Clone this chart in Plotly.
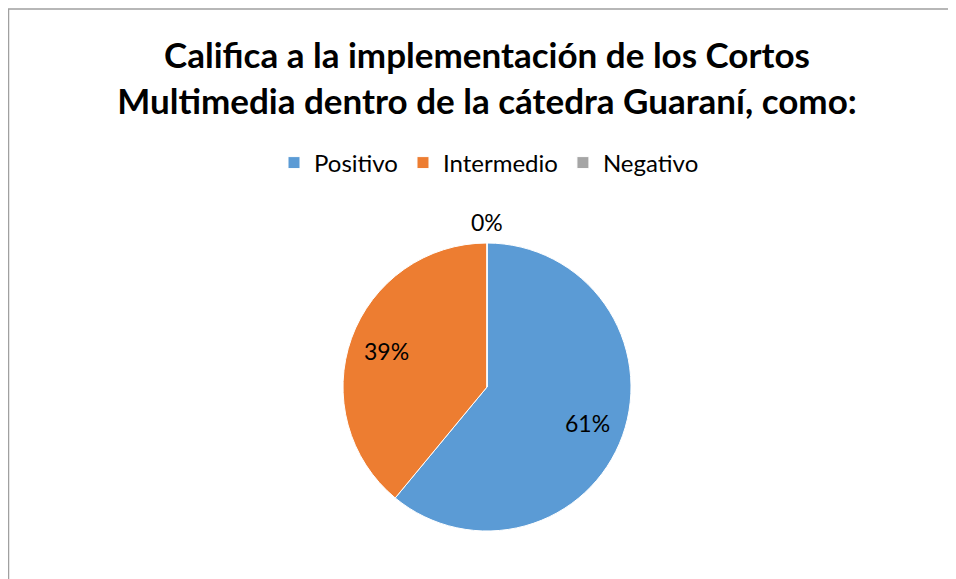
import math
import plotly.graph_objects as go

# datos de la encuesta
categorias = ["Positivo", "Intermedio", "Negativo"]
valores = [61, 39, 0]
colores = ["#5B9BD5", "#ED7D31", "#A5A5A5"]

titulo = ("Califica a la implementación de los Cortos<br>"
          "Multimedia dentro de la cátedra Guaraní, como:")

W, H = 956, 579
# centro y radio de la torta (px de la figura)
cx, cy, R = 479, 379, 144

fig = go.Figure()

fig.add_trace(go.Pie(
    labels=categorias,
    values=valores,
    sort=False,
    direction="clockwise",
    rotation=0,
    marker=dict(colors=colores, line=dict(color="white", width=1)),
    textinfo="none",
    showlegend=True,
    domain=dict(x=[(cx - R) / W, (cx + R) / W],
                y=[(H - cy - R) / H, (H - cy + R) / H]),
))

# etiquetas de porcentaje como en Excel (mas afuera que las de plotly)
total = sum(valores)
acumulado = 0
anotaciones = []
for v in valores:
    medio = (acumulado + v / 2) / total
    acumulado += v
    ang = 2 * math.pi * medio
    dist = 0.74 * R if v > 0 else R + 21
    px_ = cx + dist * math.sin(ang)
    py_ = cy - dist * math.cos(ang)
    anotaciones.append(dict(
        text=f"{round(100 * v / total)}%",
        x=px_ / W, y=1 - py_ / H, xref="paper", yref="paper",
        xanchor="center", yanchor="middle", showarrow=False,
        font=dict(family="Lato", size=23, color="black"),
    ))

fig.update_layout(
    width=W,
    height=H,
    margin=dict(l=0, r=0, t=0, b=0),
    paper_bgcolor="white",
    font=dict(family="Lato", color="black"),
    title=dict(
        text=titulo,
        x=479 / W,
        xanchor="center",
        y=1 - 60 / H,
        yanchor="top",
        font=dict(family="Lato", size=35, color="black", weight="bold"),
    ),
    legend=dict(
        orientation="h",
        x=481 / W,
        xanchor="center",
        y=1 - 155 / H,
        yanchor="middle",
        font=dict(family="Lato", size=24, color="black"),
        bgcolor="rgba(0,0,0,0)",
    ),
    annotations=anotaciones,
    # borde del area del grafico
    shapes=[dict(type="rect", xref="paper", yref="paper",
                 x0=0.5 / W, x1=1.02, y0=-0.02, y1=1 - 1 / H,
                 line=dict(color="#A0A0A0", width=1.5))],
)

fig.write_html("out.html")
